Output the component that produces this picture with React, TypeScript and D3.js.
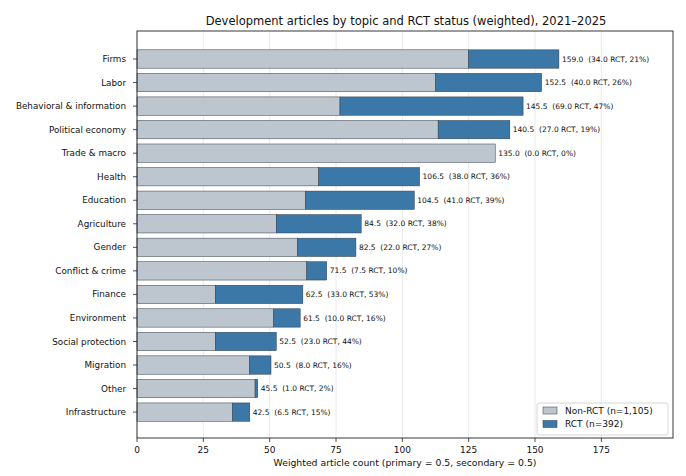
import React from "react";
import * as d3 from "d3";

const categories = [
  "Firms", "Labor", "Behavioral & information", "Political economy", "Trade & macro",
  "Health", "Education", "Agriculture", "Gender", "Conflict & crime", "Finance",
  "Environment", "Social protection", "Migration", "Other", "Infrastructure",
];
const totals = [159.0, 152.5, 145.5, 140.5, 135.0, 106.5, 104.5, 84.5, 82.5, 71.5, 62.5, 61.5, 52.5, 50.5, 45.5, 42.5];
const rctValues = [34.0, 40.0, 69.0, 27.0, 0.0, 38.0, 41.0, 32.0, 22.0, 7.5, 33.0, 10.0, 23.0, 8.0, 1.0, 6.5];
const xTicks = [0, 25, 50, 75, 100, 125, 150, 175];
const legendLabels = ["Non-RCT (n=1,105)", "RCT (n=392)"];

const W = 686, H = 476;
const L = 137, R = 673, T = 31, B = 438;
const GREY = "#bdc6ce", BLUE = "#3b78a8", EDGE = "#2f3a44";
const FONT = "DejaVu Sans, sans-serif";

export default function App() {
  const x = d3.scaleLinear().domain([0, 202]).range([L, R]);
  const y = d3.scaleLinear().domain([-1.19, 16.1]).range([T, B]);
  const bh = (y(1) - y(0)) * 0.78;
  return (
    <svg width={W} height={H} style={{ position: "absolute", left: 0, top: 0, background: "#fff" }} fontFamily={FONT}>
      <text x={406} y={25} textAnchor="middle" fontSize={11.5} fill="#111">
        Development articles by topic and RCT status (weighted), 2021–2025
      </text>
      {xTicks.map((t) => (
        <line key={"g" + t} x1={x(t)} x2={x(t)} y1={T} y2={B} stroke="#e4e4e4" strokeWidth={0.8} />
      ))}
      {categories.map((c, i) => {
        const non = totals[i] - rctValues[i];
        const yc = y(i);
        const pct = Math.round((rctValues[i] / totals[i]) * 100);
        return (
          <g key={c}>
            <rect x={x(0)} y={yc - bh / 2} width={x(non) - x(0)} height={bh} fill={GREY} stroke={EDGE} strokeWidth={0.5} />
            {rctValues[i] > 0 && (
              <rect x={x(non)} y={yc - bh / 2} width={x(totals[i]) - x(non)} height={bh} fill={BLUE} stroke={EDGE} strokeWidth={0.5} />
            )}
            <text x={x(totals[i]) + 3} y={yc} dy="0.35em" fontSize={7.5} fill="#111" style={{ whiteSpace: "pre" }}>
              {`${totals[i].toFixed(1)}  (${rctValues[i].toFixed(1)} RCT, ${pct}%)`}
            </text>
            <line x1={L - 4} x2={L} y1={yc} y2={yc} stroke="#222" strokeWidth={0.8} />
            <text x={L - 11} y={yc} dy="0.35em" textAnchor="end" fontSize={8.8} fill="#111">{c}</text>
          </g>
        );
      })}
      <rect x={L} y={T} width={R - L} height={B - T} fill="none" stroke="#222" strokeWidth={0.9} />
      {xTicks.map((t) => (
        <g key={"t" + t}>
          <line x1={x(t)} x2={x(t)} y1={B} y2={B + 4} stroke="#222" strokeWidth={0.8} />
          <text x={x(t)} y={B + 15} textAnchor="middle" fontSize={9} fill="#111">{t}</text>
        </g>
      ))}
      <text x={(L + R) / 2} y={466} textAnchor="middle" fontSize={9.3} fill="#111">
        Weighted article count (primary = 0.5, secondary = 0.5)
      </text>
      <g>
        <rect x={537} y={403} width={131} height={32} fill="#fff" fillOpacity={0.85} stroke="#ccc" strokeWidth={0.8} rx={2} />
        {legendLabels.map((lab, k) => (
          <g key={lab}>
            <rect x={543} y={407 + k * 13.5} width={14} height={7} fill={k === 0 ? GREY : BLUE} stroke={EDGE} strokeWidth={0.5} />
            <text x={565} y={410.5 + k * 13.5} dy="0.35em" fontSize={9} fill="#111">{lab}</text>
          </g>
        ))}
      </g>
    </svg>
  );
}
